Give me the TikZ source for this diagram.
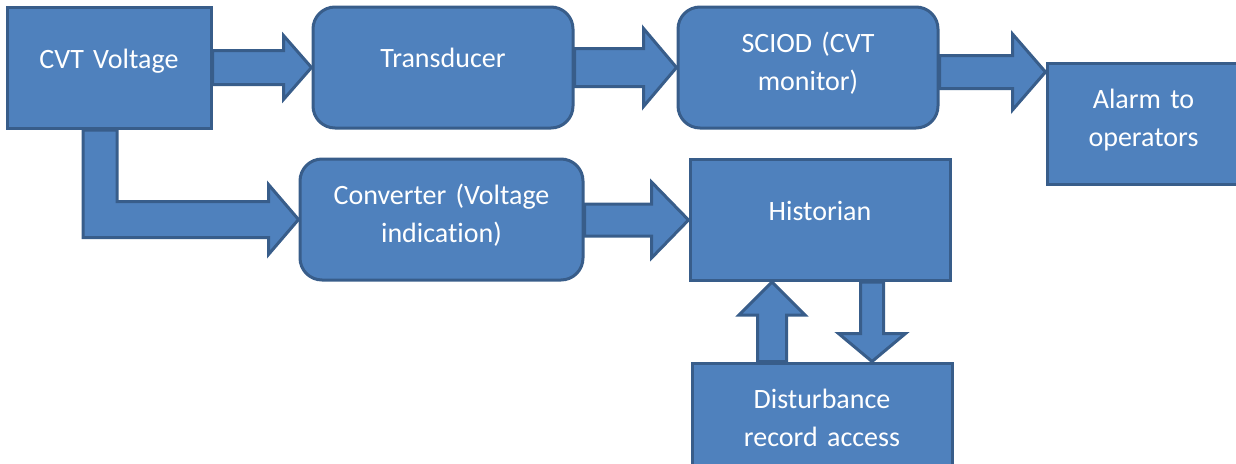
\documentclass[tikz,border=0pt]{standalone}
\usepackage{fontspec}
\setmainfont{Carlito}[Ligatures=NoCommon, WordSpace=0.85]
\usepackage{xcolor}
\usepackage{tikz}
\usetikzlibrary{calc,backgrounds}

\definecolor{blkfill}{RGB}{79,129,189}
\definecolor{blkline}{RGB}{56,93,138}
\newcommand{\blkfont}{\fontsize{28pt}{38pt}\selectfont}

% horizontal block arrow: start, tip, half shaft, half head, head length
\newcommand{\harrow}[5]{%
  \draw[fatarrow] let \p1=(#1), \p2=(#2) in
    (\x1,\y2+#3) -- (\x2-#5,\y2+#3) -- (\x2-#5,\y2+#4) -- (\x2,\y2)
    -- (\x2-#5,\y2-#4) -- (\x2-#5,\y2-#3) -- (\x1,\y2-#3) -- cycle;}

% vertical block arrow: start, tip, half shaft, half head, head length (signed)
\newcommand{\varrow}[5]{%
  \draw[fatarrow] let \p1=(#1), \p2=(#2), \n1={\y2-(#5)} in
    (\x2-#3,\y1) -- (\x2-#3,\n1) -- (\x2-#4,\n1) -- (\x2,\y2)
    -- (\x2+#4,\n1) -- (\x2+#3,\n1) -- (\x2+#3,\y1) -- cycle;}

\tikzset{
  blk/.style={draw=blkline, fill=blkfill, line width=3pt, text=white,
    minimum height=121pt, inner sep=0pt, align=center, font=\blkfont,
    text height=20pt, text depth=20pt},
  rblk/.style={blk, rounded corners=22pt},
  twoline/.style={text depth=51pt},
  fatarrow/.style={draw=blkline, fill=blkfill, line width=3pt, line join=miter}
}

\begin{document}
\begin{tikzpicture}[x=1pt, y=-1pt]
        \useasboundingbox (0,0) rectangle (1236,463);
        \clip (0,0) rectangle (1236,463);

        % Top row
        \node[blk, minimum width=204pt, text width=196pt] (cvt) at (109,68) {CVT Voltage};
        \node[rblk, minimum width=260pt, text width=250pt] (trans) at (443,67.5) {Transducer};
        \node[rblk, twoline, minimum width=260pt, text width=250pt] (sciod) at (808,67.5) {SCIOD (CVT\\monitor)};
        \node[blk, twoline, minimum width=193pt, text width=185pt] (alarm) at (1143.5,124) {Alarm to\\operators};

        % Middle row
        \node[rblk, twoline, minimum width=283pt, text width=275pt] (conv) at (441.5,219.5) {Converter (Voltage\\indication)};
        \node[blk, minimum width=260pt, text width=250pt] (hist) at (820,220) {Historian};

        % Bottom row
        \node[blk, twoline, minimum width=260pt, text width=250pt] (dist) at (822,423.5) {Disturbance\\record access};

        % Tips that are not on an anchor
        \coordinate (alarmin) at ($(alarm.north west)+(0,10)$);
        \coordinate (histin) at ($(hist.south)+(-48,0)$);
        \coordinate (distin) at ($(dist.north)+(50,0)$);

        % Block arrows behind the boxes
        \begin{scope}[on background layer]
            \harrow{cvt.east}{trans.west}{17pt}{32pt}{28pt}
            \harrow{trans.east}{sciod.west}{19pt}{39pt}{33pt}
            \harrow{sciod.east}{alarmin}{16.5pt}{38pt}{33pt}
            \harrow{conv.east}{hist.west}{16pt}{38pt}{37pt}

            % CVT Voltage down and across to the converter
            \draw[fatarrow] let \p1=(cvt.south), \p2=(conv.west) in
                (\x1-26pt,\y1) -- (\x1-26pt,\y2-18pt) -- (\x2-30pt,\y2-18pt)
                -- (\x2-30pt,\y2-35pt) -- (\x2,\y2) -- (\x2-30pt,\y2+35pt)
                -- (\x2-30pt,\y2+18pt) -- (\x1+8pt,\y2+18pt) -- (\x1+8pt,\y1) -- cycle;

            % Historian <-> disturbance records
            \varrow{dist.north}{histin}{14.5pt}{33pt}{33pt}
            \varrow{hist.south}{distin}{11.5pt}{33.5pt}{-28pt}
        \end{scope}
\end{tikzpicture}
\end{document}
